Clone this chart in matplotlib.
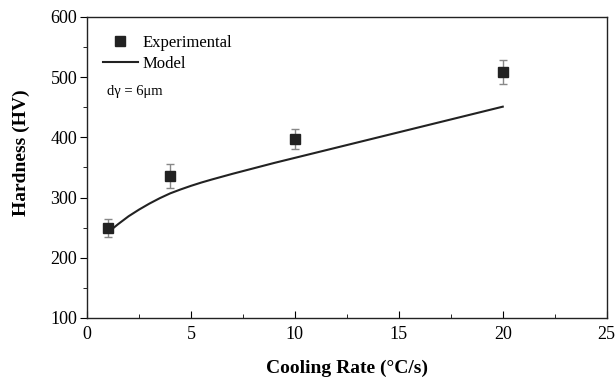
import matplotlib
matplotlib.use("Agg")
import matplotlib.pyplot as plt
from matplotlib.ticker import MultipleLocator

plt.rcParams['font.family'] = ['Liberation Serif', 'DejaVu Serif']

# experimental points
exp_rate = [1, 4, 10, 20]
exp_hv = [250, 336, 397, 508]
exp_err = [15, 20, 17, 20]

# model curve
model_rate = [1, 1.5, 2, 2.5, 3, 3.5, 4, 4.5, 5, 5.5, 6, 7, 8, 9, 10, 12, 14, 16, 18, 20]
model_hv = [242, 256, 269, 280, 290, 299, 307, 313.5, 319.5, 325, 330, 339.5, 348.5, 357.5, 366,
            383, 400, 417, 434, 451]

fig = plt.figure(figsize=(6.15, 3.77), dpi=100)
ax = fig.add_axes([0.1415, 0.1565, 0.845, 0.7985])

ax.plot(model_rate, model_hv, color='#222222', lw=1.5, label='Model', zorder=2)
ax.errorbar(exp_rate, exp_hv, yerr=exp_err, fmt='none', ecolor='#888888',
            elinewidth=1, capsize=3, capthick=1, zorder=3)
ax.plot(exp_rate, exp_hv, 's', color='#222222', ms=7, ls='none',
        label='Experimental', zorder=4)

ax.set_xlim(0, 25)
ax.set_ylim(100, 600)
ax.xaxis.set_major_locator(MultipleLocator(5))
ax.xaxis.set_minor_locator(MultipleLocator(2.5))
ax.yaxis.set_major_locator(MultipleLocator(100))
ax.yaxis.set_minor_locator(MultipleLocator(50))
ax.tick_params(axis='x', which='both', direction='in', labelsize=13, pad=6)
ax.tick_params(axis='x', which='major', length=5)
ax.tick_params(axis='x', which='minor', length=3)
ax.tick_params(axis='y', which='both', direction='out', labelsize=13, pad=2)
ax.tick_params(axis='y', which='major', length=5)
ax.tick_params(axis='y', which='minor', length=3)
for s in ax.spines.values():
    s.set_linewidth(1.0)
    s.set_color('#222222')

ax.set_xlabel('Cooling Rate (°C/s)', fontsize=14, fontweight='bold', labelpad=12)
ax.set_ylabel('Hardness (HV)', fontsize=14, fontweight='bold')
ax.yaxis.set_label_coords(-0.11, 0.55)

h, l = ax.get_legend_handles_labels()
ax.legend(h[::-1], l[::-1], loc='upper left', frameon=False, fontsize=12,
          handlelength=2.1, handletextpad=0.3, labelspacing=0.3,
          borderaxespad=0.3, bbox_to_anchor=(0.008, 0.98))
ax.text(0.038, 0.74, 'dγ = 6μm', transform=ax.transAxes, fontsize=10.5)

fig.savefig('out.png', dpi=100)
